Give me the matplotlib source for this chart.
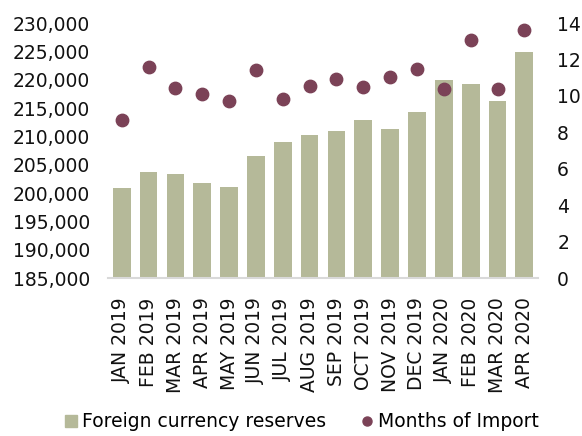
import numpy as np
import matplotlib
matplotlib.use('Agg')
import matplotlib.pyplot as plt
from matplotlib.ticker import FuncFormatter
from matplotlib.lines import Line2D

months = ['JAN 2019', 'FEB 2019', 'MAR 2019', 'APR 2019', 'MAY 2019', 'JUN 2019',
          'JUL 2019', 'AUG 2019', 'SEP 2019', 'OCT 2019', 'NOV 2019', 'DEC 2019',
          'JAN 2020', 'FEB 2020', 'MAR 2020', 'APR 2020']
reserves = [200900, 203650, 203400, 201800, 201100, 206500, 209000, 210300,
            210900, 212900, 211400, 214400, 219900, 219200, 216200, 224900]
months_import = [8.7, 11.6, 10.45, 10.1, 9.7, 11.4, 9.85, 10.55, 10.95, 10.5,
                 11.05, 11.5, 10.4, 13.05, 10.4, 13.6]

BAR_COLOR = '#b5b999'
DOT_COLOR = '#7b4257'
FS = 13.5

plt.rcParams['font.family'] = 'DejaVu Sans'
fig = plt.figure(figsize=(5.82, 4.36), dpi=100)
ax = fig.add_axes([0.186, 0.362, 0.738, 0.585])
x = np.arange(len(months))
ax.bar(x, reserves, width=0.66, color=BAR_COLOR, zorder=2)
ax.set_ylim(185000, 230000)
ax.set_yticks(np.arange(185000, 230001, 5000))
ax.yaxis.set_major_formatter(FuncFormatter(lambda v, p: f'{int(v):,}'))
ax.set_xlim(-0.5, len(months) - 0.5)
ax.set_xticks(x)
ax.set_xticklabels(months, rotation=90)
for s in ['top', 'right', 'left']:
    ax.spines[s].set_visible(False)
ax.spines['bottom'].set_color('#d9d9d9')
ax.spines['bottom'].set_linewidth(1.5)
ax.tick_params(axis='both', length=0, labelsize=FS, colors='#111111')
ax.tick_params(axis='y', pad=13)
ax.tick_params(axis='x', pad=14)

ax2 = ax.twinx()
ax2.scatter(x, months_import, s=80, color=DOT_COLOR, zorder=3)
ax2.set_ylim(0, 14)
ax2.set_yticks(np.arange(0, 15, 2))
for s in ['top', 'right', 'left', 'bottom']:
    ax2.spines[s].set_visible(False)
ax2.tick_params(axis='y', length=0, labelsize=FS, colors='#111111', pad=14)

handles = [Line2D([], [], marker='s', ls='', color=BAR_COLOR, markersize=9),
           Line2D([], [], marker='o', ls='', color=DOT_COLOR, markersize=6.5)]
fig.legend(handles, ['Foreign currency reserves', 'Months of Import'],
           loc='lower center', bbox_to_anchor=(0.516, -0.028), ncol=2, frameon=False,
           fontsize=FS, handletextpad=0.1, columnspacing=1.7, handlelength=1.0)

fig.savefig('out.png', dpi=100)
